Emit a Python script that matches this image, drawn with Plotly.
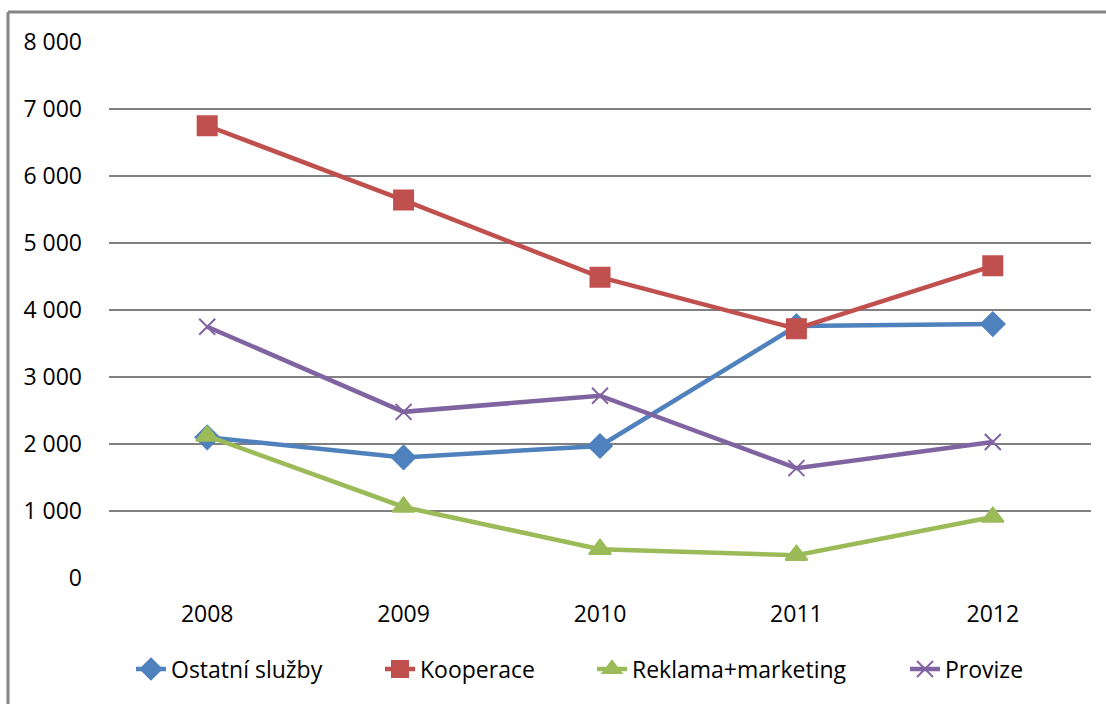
import plotly.graph_objects as go

years = ["2008", "2009", "2010", "2011", "2012"]
ostatni_sluzby = [2100, 1800, 1970, 3760, 3790]
kooperace = [6750, 5640, 4490, 3720, 4660]
reklama_marketing = [2120, 1060, 430, 340, 910]
provize = [3750, 2480, 2720, 1640, 2030]
y_ticks = [0, 1000, 2000, 3000, 4000, 5000, 6000, 7000, 8000]

series = [
    ("Ostatní služby", ostatni_sluzby, "#4F81BD", "diamond", 18),
    ("Kooperace", kooperace, "#C0504D", "square", 19),
    ("Reklama+marketing", reklama_marketing, "#9BBB59", "triangle-up", 19),
    ("Provize", provize, "#8064A2", "x-thin", 16),
]
# left pixel of each legend entry
legend_left = [131, 380, 592, 905]

W, H = 1106, 704
L, R, T, B = 109, 15, 42, 126
pw, ph = W - L - R, H - T - B

def px(x):
    return (x - L) / pw

def py(y):
    return (H - B - y) / ph

FS = 23
fig = go.Figure()
legends = {}
for i, (name, vals, color, sym, size) in enumerate(series):
    key = "legend" if i == 0 else f"legend{i + 1}"
    fig.add_trace(go.Scatter(
        x=years, y=vals, name=name, mode="lines+markers",
        line=dict(color=color, width=4.5),
        marker=dict(symbol=sym, size=size, color=color,
                    line=dict(color=color, width=2)),
        legend=key,
    ))
    legends[key] = dict(x=px(legend_left[i]), xanchor="left",
                        y=py(669), yanchor="middle",
                        font=dict(size=FS), bgcolor="rgba(0,0,0,0)")

# outer chart frame (top and left edges visible)
frame = dict(color="#868686", width=3)
fig.add_shape(type="line", xref="paper", yref="paper",
              x0=px(8), x1=px(W + 5), y0=py(12), y1=py(12), line=frame)
fig.add_shape(type="line", xref="paper", yref="paper",
              x0=px(8), x1=px(8), y0=py(12), y1=py(H + 5), line=frame)

fig.update_layout(
    width=W, height=H,
    margin=dict(l=L, r=R, t=T, b=B),
    paper_bgcolor="white", plot_bgcolor="white",
    separators=", ",
    font=dict(family="Open Sans, DejaVu Sans, sans-serif", size=FS, color="black"),
    xaxis=dict(type="category", range=[-0.5, 4.5], showgrid=False,
               showline=False, ticks="", ticklabelstandoff=20,
               tickfont=dict(size=FS)),
    yaxis=dict(range=[0, 8000], tickvals=y_ticks, tickformat=",d",
               showgrid=True, gridcolor="#808080", gridwidth=1.5,
               zeroline=False, showline=False, ticks="",
               ticklabelstandoff=26, tickfont=dict(size=FS)),
    showlegend=True,
    **legends,
)

fig.write_html("out.html")
